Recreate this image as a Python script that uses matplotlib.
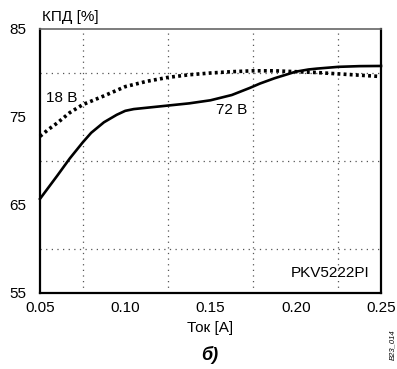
import numpy as np
from matplotlib import pyplot as plt

plt.rcParams['font.family'] = ['Liberation Sans', 'DejaVu Sans']

# кривые КПД
i_18 = [0.05, 0.055, 0.06, 0.0675, 0.075, 0.0875, 0.10, 0.1125, 0.125, 0.1375,
        0.15, 0.1625, 0.175, 0.1875, 0.20, 0.2125, 0.225, 0.2375, 0.25]
kpd_18 = [72.8, 73.6, 74.3, 75.5, 76.4, 77.4, 78.45, 79.05, 79.5, 79.8,
          80.0, 80.15, 80.25, 80.25, 80.15, 80.05, 79.9, 79.75, 79.6]

i_72 = [0.05, 0.055, 0.06, 0.0675, 0.075, 0.08, 0.0875, 0.095, 0.10, 0.105,
        0.1125, 0.125, 0.1375, 0.15, 0.1625, 0.173, 0.179, 0.1875, 0.195,
        0.20, 0.2075, 0.2125, 0.225, 0.2375, 0.25]
kpd_72 = [65.7, 67.0, 68.3, 70.3, 72.1, 73.2, 74.4, 75.25, 75.7, 75.9,
          76.05, 76.3, 76.55, 76.9, 77.5, 78.3, 78.8, 79.4, 79.85,
          80.15, 80.4, 80.5, 80.7, 80.78, 80.8]

x_ticks = [0.05, 0.10, 0.15, 0.20, 0.25]
x_labels = ['0.05', '0.10', '0.15', '0.20', '0.25']
y_ticks = [55, 65, 75, 85]

fig = plt.figure(figsize=(3.97, 3.69), dpi=100)
ax = fig.add_axes([40 / 397, 76 / 369, 341 / 397, 264 / 369])

ax.plot(i_18, kpd_18, color='black', lw=2.6, linestyle=(0, (0.8, 0.9)), clip_on=False)
ax.plot(i_72, kpd_72, color='black', lw=1.9, solid_joinstyle='round', clip_on=False)

ax.set_xlim(0.05, 0.25)
ax.set_ylim(55, 85)
ax.set_xticks(x_ticks)
ax.set_xticklabels(x_labels)
ax.set_yticks(y_ticks)
ax.set_xticks(np.arange(0.05, 0.2501, 0.025), minor=True)
ax.set_yticks(np.arange(55, 85.1, 5), minor=True)
ax.grid(which='minor', color='#555555', lw=0.9, linestyle=(0, (1, 3.5)))
ax.tick_params(which='both', length=0, labelsize=11, pad=6)
ax.tick_params(axis='y', pad=10)

for s in ['left', 'bottom', 'right']:
    ax.spines[s].set_linewidth(1.6)
ax.spines['top'].set_color('#666666')
ax.spines['top'].set_linewidth(1.2)

ax.text(0.0533, 77.2, '18 В', fontsize=11, va='center')
ax.text(0.153, 75.8, '72 В', fontsize=11, va='center')
ax.text(0.2435, 57.3, 'PKV5222PI', fontsize=11, ha='right', va='center')

fig.text(42 / 397, 1 - 17 / 369, 'КПД [%]', fontsize=11, va='center')
fig.text(210 / 397, 1 - 328 / 369, 'Ток [A]', fontsize=11, ha='center', va='center')
fig.text(210 / 397, 1 - 355 / 369, 'б)', fontsize=13, ha='center', va='center',
         fontweight='bold', fontstyle='italic')
fig.text(393 / 397, 1 - 345 / 369, 'B23_014', fontsize=5.5, rotation=90,
         ha='center', va='center', fontstyle='italic')

fig.savefig('out.png', dpi=100)
